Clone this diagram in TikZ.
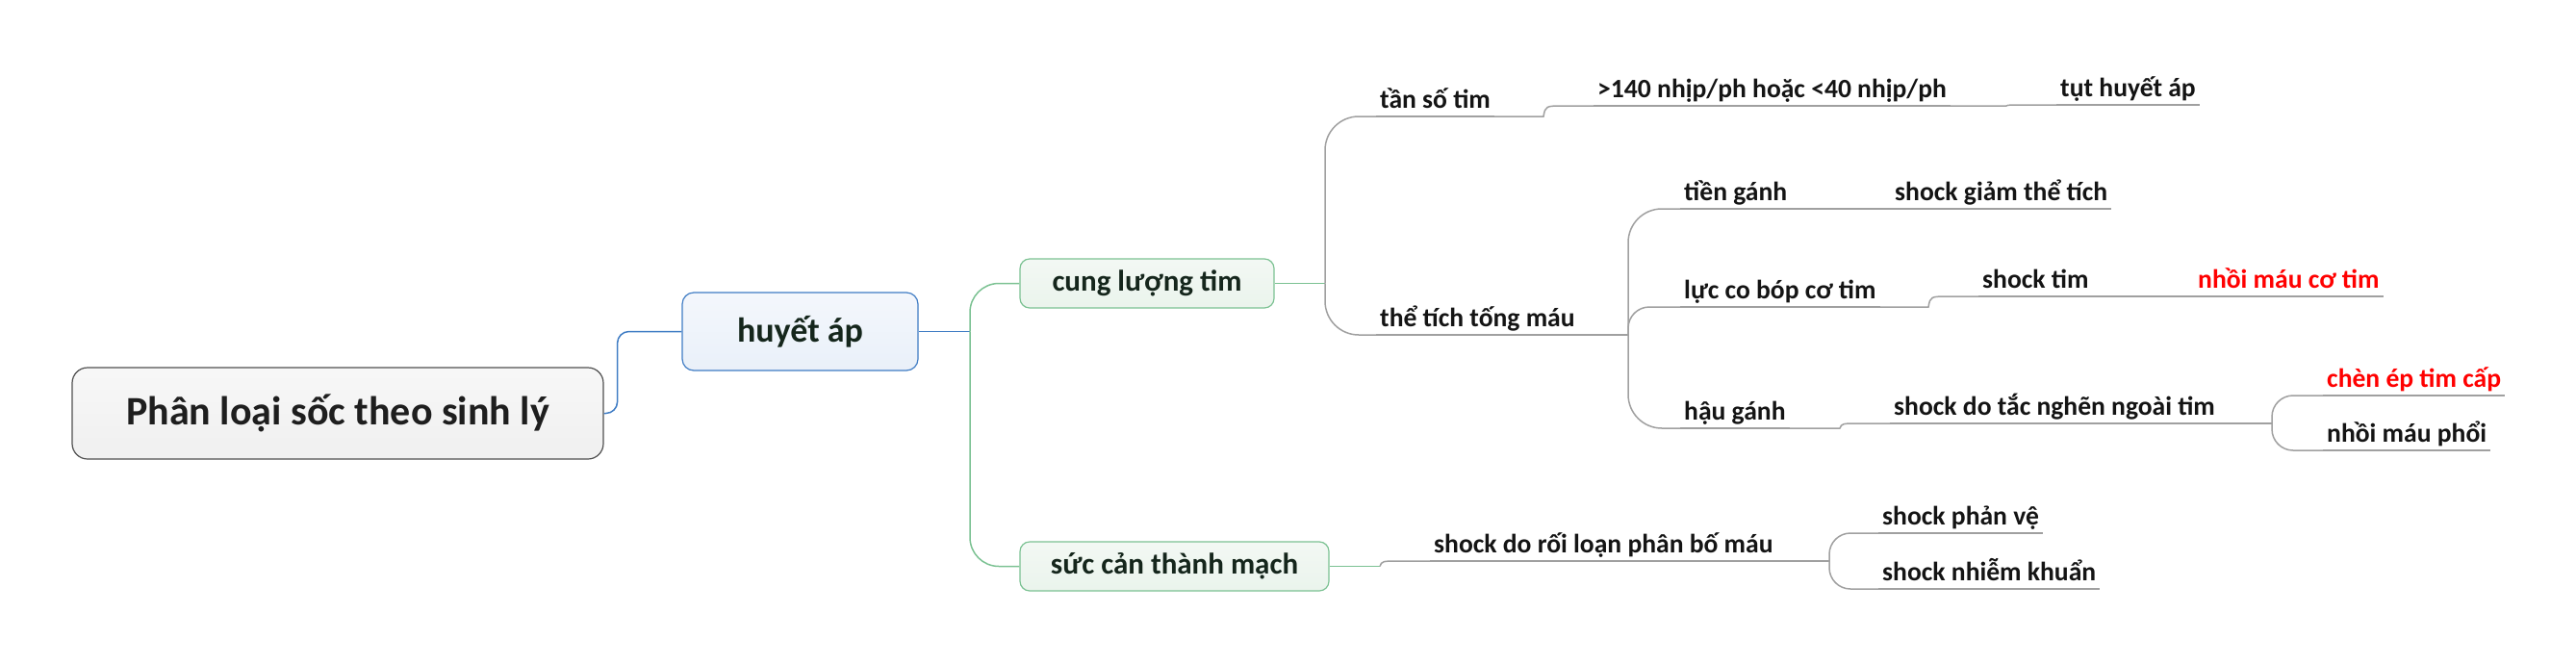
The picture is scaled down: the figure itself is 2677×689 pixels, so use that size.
\documentclass[tikz,border=0pt]{standalone}
\usepackage{fontspec}
\setmainfont{Carlito}
\usetikzlibrary{calc}

\definecolor{rootline}{HTML}{505050}
\definecolor{roottext}{HTML}{1E1E1E}
\definecolor{blueline}{HTML}{3F7CC4}
\definecolor{bluetop}{HTML}{F4F7FC}
\definecolor{bluebot}{HTML}{E9F0F9}
\definecolor{greenline}{HTML}{7CC293}
\definecolor{greentop}{HTML}{F3F8F4}
\definecolor{greenbot}{HTML}{EAF4EC}
\definecolor{grayline}{HTML}{A0A0A0}
\definecolor{boxtext}{HTML}{15261C}
\definecolor{labeltext}{HTML}{141414}
\definecolor{hotred}{HTML}{FF0000}

\begin{document}
\begin{tikzpicture}[x=1pt,y=-1pt]

% Stili per i nodi e i collegamenti
\tikzset{
  rootbox/.style={draw=rootline, line width=1.2, rounded corners=16,
    top color=white!97!black, bottom color=white!94!black,
    minimum width=552, minimum height=95, text=roottext,
    font=\fontsize{42}{46}\selectfont\bfseries},
  bluebox/.style={draw=blueline, line width=1.2, rounded corners=12,
    top color=bluetop, bottom color=bluebot,
    minimum width=245, minimum height=81, text=boxtext,
    font=\fontsize{36}{40}\selectfont\bfseries},
  greenbox/.style={draw=greenline, line width=1.2, rounded corners=10,
    top color=greentop, bottom color=greenbot,
    minimum height=51, text=boxtext,
    font=\fontsize{31}{34}\selectfont\bfseries},
  leaf/.style={anchor=south west, inner xsep=4, inner ysep=8,
    text height=18, text depth=0, text=labeltext,
    font=\fontsize{27.6}{30}\selectfont\bfseries},
  hot/.style={leaf, text=hotred},
  blueconn/.style={draw=blueline, line width=1.5},
  greenconn/.style={draw=greenline, line width=1.5},
  grayconn/.style={draw=grayline, line width=1.5},
  sconn/.style={to path={let \p1=(\tikztostart), \p2=(\tikztotarget) in
    -- (\x2-52,\y1) .. controls (\x2-50,\y2) .. (\x2-30,\y2) -- (\tikztotarget)}}
}

\useasboundingbox (0,0) rectangle (2677,689);

% --- Nodi principali ---
\node[rootbox] (root) at (351,429.5) {Phân loại sốc theo sinh lý};
\node[bluebox] (ha) at (831.5,344.5) {huyết áp};
\node[greenbox, minimum width=264] (clt) at (1192,294.5) {cung lượng tim};
\node[greenbox, minimum width=321] (scm) at (1220.5,588.5) {sức cản thành mạch};

% --- Rami di cung lượng tim ---
\node[leaf] (tst) at (1430,121) {tần số tim};
\node[leaf] (ntp) at (1656,110) {>140 nhịp/ph hoặc <40 nhịp/ph};
\node[leaf] (tha) at (2137,109) {tụt huyết áp};
\node[leaf] (ttm) at (1430,348) {thể tích tống máu};
\node[leaf] (tg) at (1746,217) {tiền gánh};
\node[leaf] (sgt) at (1965,217) {shock giảm thể tích};
\node[leaf] (lcb) at (1746,319) {lực co bóp cơ tim};
\node[leaf] (st) at (2056,308) {shock tim};
\node[hot] (nmct) at (2280,308) {nhồi máu cơ tim};
\node[leaf] (hg) at (1746,445) {hậu gánh};
\node[leaf] (sdtn) at (1964,440) {shock do tắc nghẽn ngoài tim};
\node[hot] (cet) at (2414,411) {chèn ép tim cấp};
\node[leaf] (nmp) at (2414,468) {nhồi máu phổi};

% --- Rami di sức cản thành mạch ---
\node[leaf] (sdr) at (1486,583) {shock do rối loạn phân bố máu};
\node[leaf] (spv) at (1952,554) {shock phản vệ};
\node[leaf] (snk) at (1952,612) {shock nhiễm khuẩn};

% Sottolineature
\foreach \n in {tst,ntp,tha,ttm,tg,sgt,lcb,st,nmct,hg,sdtn,cet,nmp,sdr,spv,snk}
  \draw[grayconn] (\n.south west) -- (\n.south east);

% Punti di diramazione
\coordinate (haspine) at (1008,344.5);
\coordinate (cltspine) at (1377,294.5);
\coordinate (ttmspine) at (1692,348);
\coordinate (sdtnspine) at (2361,440);
\coordinate (scmout) at (1434,588.5);
\coordinate (sdrspine) at (1901,583);

% Collegamenti
\draw[blueconn, rounded corners=12] (root.east) -- ++(14,0) |- (ha.west);
\draw[blueconn] (ha.east) -- (haspine);
\draw[greenconn, rounded corners=30] (haspine) |- (clt.west);
\draw[greenconn, rounded corners=30] (haspine) |- (scm.west);

\draw[greenconn] (clt.east) -- (cltspine);
\draw[grayconn, rounded corners=35] (cltspine) |- (tst.south west);
\draw[grayconn, rounded corners=35] (cltspine) |- (ttm.south west);
\draw[grayconn] (tst.south east) to[sconn] (ntp.south west);
\draw[grayconn] (ntp.south east) to[sconn] (tha.south west);

\draw[grayconn] (ttm.south east) -- (ttmspine);
\draw[grayconn, rounded corners=35] (ttmspine) |- (tg.south west);
\draw[grayconn, rounded corners=22] (ttmspine) |- (lcb.south west);
\draw[grayconn, rounded corners=35] (ttmspine) |- (hg.south west);
\draw[grayconn] (tg.south east) to[sconn] (sgt.south west);
\draw[grayconn] (lcb.south east) to[sconn] (st.south west);
\draw[grayconn] (st.south east) to[sconn] (nmct.south west);
\draw[grayconn] (hg.south east) to[sconn] (sdtn.south west);

\draw[grayconn] (sdtn.south east) -- (sdtnspine);
\draw[grayconn, rounded corners=22] (sdtnspine) |- (cet.south west);
\draw[grayconn, rounded corners=22] (sdtnspine) |- (nmp.south west);

\draw[greenconn] (scm.east) -- (scmout);
\draw[grayconn] (scmout) to[sconn] (sdr.south west);
\draw[grayconn] (sdr.south east) -- (sdrspine);
\draw[grayconn, rounded corners=22] (sdrspine) |- (spv.south west);
\draw[grayconn, rounded corners=22] (sdrspine) |- (snk.south west);

\end{tikzpicture}
\end{document}
